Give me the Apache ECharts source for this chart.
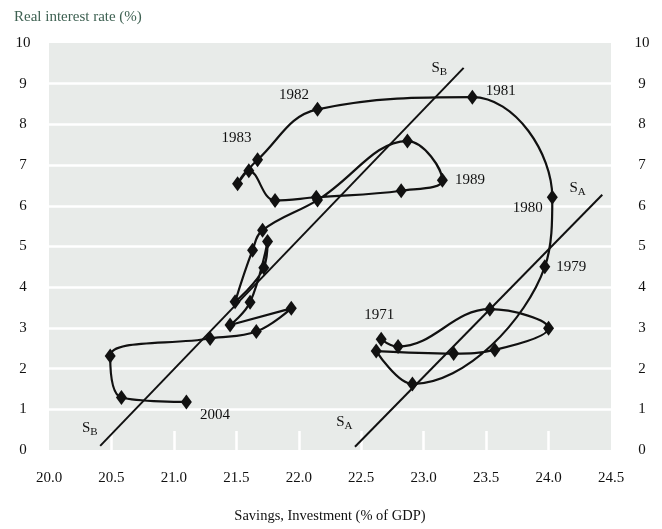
<!DOCTYPE html>
<html>
<head>
<meta charset="utf-8">
<script src="https://cdn.jsdelivr.net/npm/echarts@6/dist/echarts.min.js"></script>
<style>
html,body{margin:0;padding:0;background:#fff;}
#chart{width:662px;height:529px;}
</style>
</head>
<body>
<div id="chart"></div>
<script>
// ---- Data ----
var years = [1971,1972,1973,1974,1975,1976,1977,1978,1979,1980,1981,1982,1983,1984,1985,1986,1987,1988,1989,1990,1991,1992,1993,1994,1995,1996,1997,1998,1999,2000,2001,2002,2003,2004];
var savings = [22.66,22.795,23.53,24.00,23.57,23.24,22.62,22.91,23.97,24.03,23.39,22.15,21.67,21.51,21.60,21.81,22.14,22.82,23.15,22.87,22.15,21.71,21.63,21.49,21.72,21.75,21.61,21.45,21.94,21.66,21.29,20.49,20.58,21.10];
var realRate = [2.72,2.54,3.46,2.99,2.46,2.37,2.43,1.62,4.50,6.21,8.67,8.37,7.13,6.54,6.86,6.13,6.21,6.37,6.63,7.59,6.14,5.40,4.91,3.64,4.48,5.12,3.63,3.07,3.48,2.91,2.74,2.31,1.29,1.18];
var labeledYears = [1971,1979,1980,1981,1982,1983,1989,2004];
var sbX = [20.41, 23.32];
var sbY = [0.1, 9.39];
var saX = [22.45, 24.43];
var saY = [0.08, 6.27];
var xTicks = [20.5,21.0,21.5,22.0,22.5,23.0,23.5,24.0];

// ---- Styles ----
var FONT = '"Liberation Serif", "DejaVu Serif", serif';
var INK = '#111';
var yearLabelStyle = {
  1971: {position:'top', distance:9, offset:[-2,0]},
  1979: {position:'right', distance:6, offset:[0,0]},
  1980: {position:'left', distance:4, offset:[0,11]},
  1981: {position:'right', distance:8, offset:[0,-6]},
  1982: {position:'left', distance:3, offset:[0,-14]},
  1983: {position:'top', distance:7, offset:[-21,0]},
  1989: {position:'right', distance:7, offset:[0,0]},
  2004: {position:'right', distance:8, offset:[0,13]}
};

var pathData = years.map(function(y, i){
  var item = {value:[savings[i], realRate[i]]};
  if (labeledYears.indexOf(y) >= 0) {
    var s = yearLabelStyle[y];
    item.label = {show:true, formatter:String(y), position:s.position, distance:s.distance, offset:s.offset,
      color:INK, fontFamily:FONT, fontSize:15};
  }
  return item;
});

var subRich = {sub:{fontFamily:FONT, fontSize:11, color:INK, padding:[8,0,0,0]}, s:{fontFamily:FONT, fontSize:15, color:INK}};

function lineData(xs, ys, name, topOff, botOff){
  return [
    {value:[xs[0], ys[0]], label:{show:true, position:'left', distance:2, offset:botOff, formatter:'{s|S}{sub|'+name+'}', rich:subRich}},
    {value:[xs[1], ys[1]], label:{show:true, position:'left', distance:16, offset:topOff, formatter:'{s|S}{sub|'+name+'}', rich:subRich}}
  ];
}

var chart = echarts.init(document.getElementById('chart'), null, {renderer:'canvas'});

var xAxisBase = {
  type:'value', min:20, max:24.5, interval:0.5,
  axisLine:{show:false},
  splitLine:{show:false},
  axisTick:{show:true, inside:true, length:19, customValues:xTicks, lineStyle:{color:'#ffffff', width:2.5}}
};

var refLineCommon = {
  type:'line', symbol:'circle', symbolSize:1, showSymbol:true,
  itemStyle:{color:'rgba(0,0,0,0)'},
  lineStyle:{color:INK, width:2}, z:2, silent:true
};

chart.setOption({
  animation:false,
  backgroundColor:'#ffffff',
  textStyle:{fontFamily:FONT},
  title:{
    text:'Real interest rate (%)', left:9, top:5,
    textStyle:{fontFamily:FONT, fontSize:15, fontWeight:'normal', color:'#3e6152'}
  },
  grid:{left:49, right:51, top:43, bottom:79, show:true, backgroundColor:'#e8ebe9', borderWidth:0},
  xAxis:[
    Object.assign({}, xAxisBase, {
      position:'bottom',
      name:'Savings, Investment (% of GDP)', nameLocation:'middle', nameGap:59,
      nameTextStyle:{fontFamily:FONT, fontSize:14.5, color:INK},
      axisLabel:{show:true, margin:21, color:INK, fontFamily:FONT, fontSize:15,
        formatter:function(v){return v.toFixed(1);}}
    }),
    Object.assign({}, xAxisBase, {position:'top', axisLabel:{show:false}})
  ],
  yAxis:[
    {type:'value', min:0, max:10, interval:1, position:'left',
      axisLine:{show:false}, axisTick:{show:false},
      splitLine:{show:true, showMinLine:false, showMaxLine:false, lineStyle:{color:'#ffffff', width:2.5}},
      axisLabel:{margin:26, align:'center', color:INK, fontFamily:FONT, fontSize:15}
    },
    {type:'value', min:0, max:10, interval:1, position:'right',
      axisLine:{show:false}, axisTick:{show:false}, splitLine:{show:false},
      axisLabel:{margin:31, align:'center', color:INK, fontFamily:FONT, fontSize:15}
    }
  ],
  series:[
    Object.assign({}, refLineCommon, {name:'SB', data:lineData(sbX, sbY, 'B', [0,0], [0,-18])}),
    Object.assign({}, refLineCommon, {name:'SA', data:lineData(saX, saY, 'A', [0,-7], [0,-25])}),
    {type:'line', name:'path', data:pathData, smooth:0.4,
      symbol:'diamond', symbolSize:[11,15], showAllSymbol:true,
      itemStyle:{color:INK}, lineStyle:{color:INK, width:2.2}, z:3}
  ]
});
</script>
</body>
</html>
